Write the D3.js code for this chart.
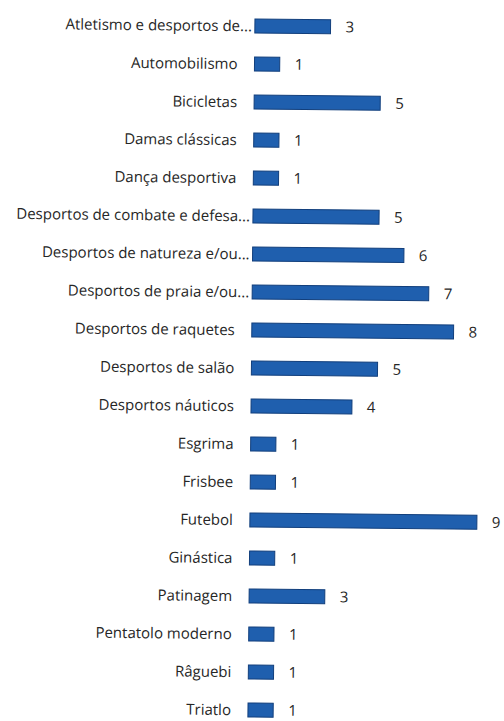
<!DOCTYPE html>
<html>
<head>
<meta charset="utf-8">
<script src="https://cdn.jsdelivr.net/npm/d3@7"></script>
<style>
    html, body { margin: 0; padding: 0; background: #fff; }
    svg { display: block; }
    .cat { font-family: "Open Sans", sans-serif; font-size: 15px; fill: #262626; }
    .val { font-family: "Open Sans", sans-serif; font-size: 15px; fill: #262626; }
</style>
</head>
<body>
<svg id="chart" width="504" height="721"></svg>
<script>
// categories and counts
const categories = [
    'Atletismo e desportos de...',
    'Automobilismo',
    'Bicicletas',
    'Damas clássicas',
    'Dança desportiva',
    'Desportos de combate e defesa...',
    'Desportos de natureza e/ou...',
    'Desportos de praia e/ou...',
    'Desportos de raquetes',
    'Desportos de salão',
    'Desportos náuticos',
    'Esgrima',
    'Frisbee',
    'Futebol',
    'Ginástica',
    'Patinagem',
    'Pentatolo moderno',
    'Râguebi',
    'Triatlo',
];
const counts = [3, 1, 5, 1, 1, 5, 6, 7, 8, 5, 4, 1, 1, 9, 1, 3, 1, 1, 1];

const data = categories.map((c, i) => ({ cat: c, n: counts[i] }));

const svg = d3.select('#chart');
const width  = 504;
const height = 721;

const x0 = 251.5;   // bars start here
const xScale = d3.scaleLinear().domain([0, 9]).range([0, 227]);
const yScale = d3.scaleBand().domain(categories).range([7, 729]);
const barH = 14;

// the scan is a bit tilted
const g = svg.append('g')
    .attr('transform', `rotate(0.58, ${x0}, ${height / 2})`);

g.selectAll('rect.bar')
    .data(data)
    .join('rect')
    .attr('class', 'bar')
    .attr('x', x0)
    .attr('y', d => yScale(d.cat) + yScale.bandwidth() / 2 - barH / 2)
    .attr('width', d => xScale(d.n))
    .attr('height', barH)
    .attr('fill', '#1f5fae')
    .attr('stroke', '#123f7c')
    .attr('stroke-width', 1);

// cut labels run right up to the bar
g.selectAll('text.cat')
    .data(data)
    .join('text')
    .attr('class', 'cat')
    .attr('x', d => x0 - (d.cat.endsWith('...') ? 3 : 17))
    .attr('y', d => yScale(d.cat) + yScale.bandwidth() / 2)
    .attr('dy', '0.35em')
    .attr('text-anchor', 'end')
    .text(d => d.cat);

g.selectAll('text.val')
    .data(data)
    .join('text')
    .attr('class', 'val')
    .attr('x', d => x0 + xScale(d.n) + 15)
    .attr('y', d => yScale(d.cat) + yScale.bandwidth() / 2)
    .attr('dy', '0.35em')
    .text(d => d.n);
</script>
</body>
</html>
